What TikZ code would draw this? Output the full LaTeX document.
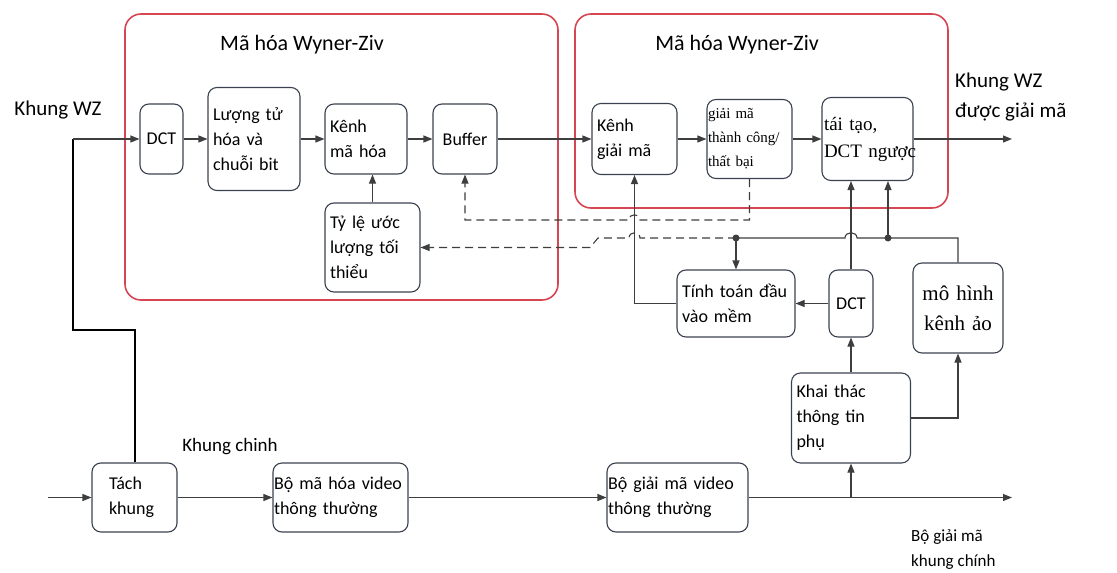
\documentclass[tikz,border=0pt]{standalone}
\usepackage{fontspec}
\setmainfont{Carlito}
\newfontfamily\tnr{Liberation Serif}
\usetikzlibrary{arrows.meta}
\definecolor{linegray}{RGB}{62,62,62}
\definecolor{boxedge}{RGB}{58,66,80}
\definecolor{wzred}{RGB}{214,70,82}
\tikzstyle{block}=[draw=boxedge, rounded corners=9pt, line width=1.1pt, align=left, inner xsep=5pt, inner ysep=2pt, font=\fontsize{18}{25}\selectfont]
\tikzstyle{wzframe}=[draw=wzred, line width=1.6pt, rounded corners=16pt]
\tikzstyle{link}=[draw=linegray, line width=1.1pt, -{Triangle[length=9pt,width=7pt]}]
\tikzstyle{plain}=[draw=linegray, line width=1.1pt]
\tikzstyle{feedback}=[link, dash pattern=on 8pt off 5pt]
\tikzstyle{txt}=[align=left, inner sep=0pt, font=\fontsize{21}{30}\selectfont]

\begin{document}
\begin{tikzpicture}[x=1pt, y=-1pt]
\useasboundingbox (0,0) rectangle (1117,573);
% frames
\node[wzframe, minimum width=433pt, minimum height=286pt] (encFrame) at (341.5,157) {};
\node[wzframe, minimum width=373pt, minimum height=194pt] (decFrame) at (761.5,111) {};
\node[txt, font=\fontsize{22}{26}\selectfont] (encTitle) at (302,45) {Mã hóa Wyner-Ziv};
\node[txt, font=\fontsize{22}{26}\selectfont] (decTitle) at (737,45) {Mã hóa Wyner-Ziv};
% top row
\node[block, text width=33pt, minimum height=70pt, align=center] (dctA) at (161.5,139) {DCT};
\node[block, text width=82pt, minimum height=103pt] (quant) at (254,139) {Lượng tử\\hóa và\\chuỗi bit};
\node[block, text width=72pt, minimum height=70pt] (chanEnc) at (366,139) {Kênh\\mã hóa};
\node[block, text width=54pt, minimum height=70pt, align=center] (buffer) at (465,139) {Buffer};
\node[block, text width=85pt, minimum height=89pt] (rateEst) at (372.5,247.5) {Tỷ lệ ước\\lượng tối\\thiểu};
\node[block, text width=75pt, minimum height=71pt] (chanDec) at (634.5,139) {Kênh\\giải mã};
\node[block, text width=83pt, inner xsep=1pt, minimum height=79pt, font=\tnr\fontsize{15}{24}\selectfont] (check) at (749.5,139) {giải mã\\thành công/\\thất bại};
\node[block, text width=87pt, inner xsep=2pt, minimum height=83pt, font=\tnr\fontsize{19}{27}\selectfont] (recon) at (867.5,139) {tái tạo,\\DCT~ngược};
% side information part
\node[block, text width=108pt, minimum height=67pt] (softIn) at (736,303.5) {Tính toán đầu\\vào mềm};
\node[block, text width=34pt, minimum height=67pt, align=center] (dctB) at (851,303.5) {DCT};
\node[block, text width=80pt, minimum height=90pt, align=center, font=\tnr\fontsize{21}{30}\selectfont] (virtChan) at (958,308) {mô hình\\kênh ảo};
\node[block, text width=109pt, minimum height=90pt] (sideInfo) at (851,418) {Khai thác\\thông tin\\phụ};
% bottom row
\node[block, text width=75pt, minimum height=69pt] (split) at (134.5,497.5) {\hspace*{12pt}Tách\\\hspace*{12pt}khung};
\node[block, text width=133pt, inner xsep=1pt, minimum height=69pt] (keyEnc) at (340.5,497.5) {Bộ mã hóa~video\\thông thường};
\node[block, text width=139pt, inner xsep=1pt, minimum height=69pt] (keyDec) at (677.5,497.5) {Bộ giải mã~video\\thông thường};
% labels
\node[txt] (inLabel) at (58,110) {Khung WZ};
\node[txt, anchor=west] (outLabel) at (955,97) {Khung WZ\\được giải mã};
\node[txt, font=\fontsize{19}{24}\selectfont] (keyLabel) at (230,447) {Khung chinh};
\node[txt, anchor=west, font=\fontsize{17}{25}\selectfont] (keyOutLabel) at (911,550) {Bộ giải mã\\khung chính};
% connector points
\coordinate (inCorner) at (73,139);
\coordinate (bendA) at (73,330);
\coordinate (inMain) at (48,497.5);
\coordinate (wzOut) at (1012,139);
\coordinate (keyOut) at (1012,497.5);
\coordinate (tapKey) at (851,497.5);
\coordinate (dashA) at (749.5,220);
\coordinate (jSoft) at (736,238);
\coordinate (jRec) at (888,238);
% input
\draw[line width=2pt, black] (split.north) -- (split.north |- bendA) -- (bendA) -- (inCorner);
\draw[link] (inCorner) -- (dctA);
\draw[link] (inMain) -- (split);
% top row chain
\draw[link] (dctA) -- (quant);
\draw[link] (quant) -- (chanEnc);
\draw[link] (chanEnc) -- (buffer);
\draw[link] (buffer) -- (chanDec);
\draw[link] (chanDec) -- (check);
\draw[link] (check) -- (recon);
\draw[link] (recon) -- (wzOut);
\draw[link] (rateEst.north) -- (rateEst.north |- chanEnc.south);
% feedback
\draw[feedback] (check.south) -- (dashA) -- (640,220) .. controls (640,213) and (629,213) .. (629,220) -- (buffer.south |- dashA) -- (buffer.south);
\draw[feedback] (jSoft) -- (640,238) .. controls (640,231) and (629,231) .. (629,238) -- (598,238) -- (590,247.5) -- (rateEst.east);
% side information
\draw[plain] (jSoft) -- (845,238) .. controls (845,231) and (857,231) .. (857,238) -- (virtChan.north |- jSoft) -- (virtChan.north);
\fill[linegray] (jSoft) circle (3.5pt);
\fill[linegray] (jRec) circle (3.5pt);
\draw[link] (jSoft) -- (softIn.north);
\draw[link] (jRec) -- (jRec |- recon.south);
\draw[link] (dctB.north) -- (dctB.north |- recon.south);
\draw[link] (dctB) -- (softIn);
\draw[link] (softIn.west) -| (chanDec.south);
\draw[link] (sideInfo) -- (dctB);
\draw[link] (sideInfo.east) -| (virtChan.south);
% bottom row chain
\draw[link] (split) -- (keyEnc);
\draw[link] (keyEnc) -- (keyDec);
\draw[link] (keyDec) -- (keyOut);
\draw[link] (tapKey) -- (sideInfo.south);
\end{tikzpicture}
\end{document}
